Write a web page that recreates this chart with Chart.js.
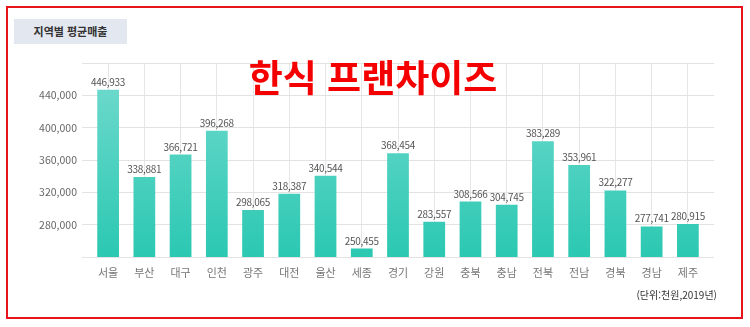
<!DOCTYPE html>
<html lang="ko">
<head>
<meta charset="utf-8">
<title>한식 프랜차이즈 지역별 평균매출</title>
<script src="https://cdn.jsdelivr.net/npm/chart.js@4/dist/chart.umd.min.js"></script>
<style>
  html, body { margin: 0; padding: 0; background: #fff; }
  #wrap { position: relative; width: 750px; height: 327px; overflow: hidden; font-family: 'Noto Sans CJK KR', 'Noto Sans', sans-serif; }
  #chart { position: absolute; left: 0; top: 0; }
  #frame { position: absolute; left: 6px; top: 6px; width: 737px; height: 313px; box-sizing: border-box; border: 2px solid #e8141b; pointer-events: none; }
  #tag { position: absolute; left: 14px; top: 19px; width: 113px; height: 25px; background: #e3e7ef; color: #333; font-size: 11px; font-weight: bold; line-height: 25px; text-align: center; }
  #headline { position: absolute; left: 173px; top: 52px; width: 400px; text-align: center; color: #f50000; font-size: 37px; font-weight: bold; line-height: 48px; }
  #unit { position: absolute; right: 33px; top: 288px; color: #333; font-size: 10px; line-height: 14px; }
</style>
</head>
<body>
<div id="wrap">
  <canvas id="chart" width="750" height="327"></canvas>
  <div id="tag">지역별 평균매출</div>
  <div id="headline">한식 프랜차이즈</div>
  <div id="unit">(단위:천원,2019년)</div>
  <div id="frame"></div>
</div>
<script>
// 지역 목록과 지역별 평균매출(천원)
const regions = ['서울', '부산', '대구', '인천', '광주', '대전', '울산', '세종', '경기', '강원', '충북', '충남', '전북', '전남', '경북', '경남', '제주'];
const avgSales = [446933, 338881, 366721, 396268, 298065, 318387, 340544, 250455, 368454, 283557, 308566, 304745, 383289, 353961, 322277, 277741, 280915];

// 세로축 범위와 눈금 간격
const yMin = 240000;
const yMax = 480000;
const yStep = 40000;

const fmt = v => Number(v).toLocaleString('en-US');

Chart.defaults.font.family = "'Noto Sans CJK KR', 'Noto Sans', sans-serif";

// 막대 위에 값 표시
const valueLabels = {
  id: 'valueLabels',
  afterDatasetsDraw(chart) {
    const ctx = chart.ctx;
    const meta = chart.getDatasetMeta(0);
    ctx.save();
    ctx.font = "10px 'Noto Sans CJK KR', sans-serif";
    if ('letterSpacing' in ctx) ctx.letterSpacing = '-0.3px';
    ctx.fillStyle = '#555';
    ctx.textAlign = 'center';
    ctx.textBaseline = 'alphabetic';
    meta.data.forEach((bar, i) => {
      ctx.fillText(fmt(chart.data.datasets[0].data[i]), bar.x, bar.y - 4);
    });
    ctx.restore();
  }
};

function barFill(context) {
  const chart = context.chart;
  const area = chart.chartArea;
  if (!area) return '#3ccfbb';
  const g = chart.ctx.createLinearGradient(0, area.top, 0, area.bottom);
  g.addColorStop(0, '#74dbcf');
  g.addColorStop(1, '#2bc8b2');
  return g;
}

new Chart(document.getElementById('chart'), {
  type: 'bar',
  data: {
    labels: regions,
    datasets: [{
      data: avgSales,
      backgroundColor: barFill,
      borderWidth: 0,
      categoryPercentage: 1.0,
      barPercentage: 0.6
    }]
  },
  options: {
    responsive: false,
    animation: false,
    layout: { padding: { top: 63, left: 0, right: 0, bottom: 0 } },
    plugins: { legend: { display: false }, tooltip: { enabled: false } },
    scales: {
      x: {
        grid: { offset: false, color: '#e6e6e6', drawTicks: false },
        border: { display: false },
        ticks: { color: '#777', font: { size: 11 }, padding: 9 },
        afterFit(scale) { scale.height = 70; }
      },
      y: {
        min: yMin,
        max: yMax,
        grid: { color: '#e3e3e3', tickLength: 8 },
        border: { display: false },
        ticks: {
          stepSize: yStep,
          color: '#666',
          font: { size: 10.5 },
          padding: 5,
          callback: v => (v === yMin || v === yMax) ? '' : fmt(v)
        },
        afterFit(scale) { scale.width = 90; }
      },
      yRight: {
        position: 'right',
        min: yMin,
        max: yMax,
        grid: { color: '#e3e3e3', tickLength: 8, drawOnChartArea: false },
        border: { display: false },
        ticks: { stepSize: yStep, display: false },
        afterFit(scale) { scale.width = 44; }
      }
    }
  },
  plugins: [valueLabels]
});
</script>
</body>
</html>
